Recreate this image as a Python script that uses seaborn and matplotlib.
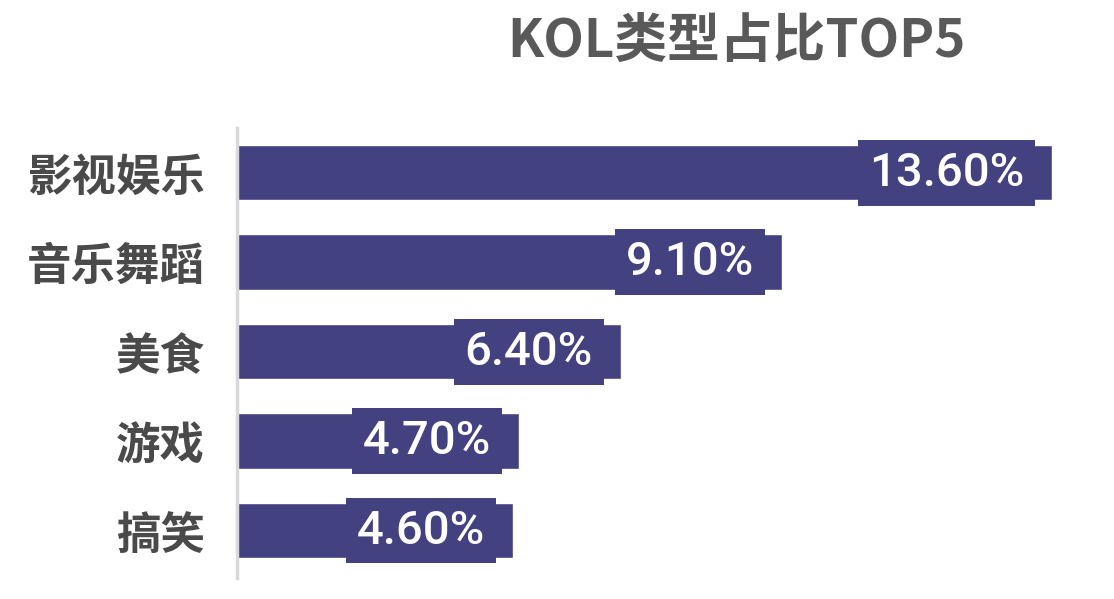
import pandas as pd
import matplotlib
matplotlib.use("Agg")
import matplotlib.pyplot as plt
import seaborn as sns

categories = ["影视娱乐", "音乐舞蹈", "美食", "游戏", "搞笑"]
values = [13.6, 9.1, 6.4, 4.7, 4.6]
labels = ["13.60%", "9.10%", "6.40%", "4.70%", "4.60%"]
title = "KOL类型占比TOP5"

sns.set_style("white")
plt.rcParams["font.family"] = ["Noto Sans CJK SC", "DejaVu Sans"]

bar_color = "#444180"

df = pd.DataFrame({"cat": categories, "val": values})

fig = plt.figure(figsize=(11.14, 5.99), dpi=100)
ax = fig.add_axes([237 / 1114, 21 / 599, (1100 - 237) / 1114, 450 / 599])

sns.barplot(data=df, y="cat", x="val", color=bar_color, saturation=1,
            width=0.62, orient="h", ax=ax)

ax.set_xlim(0, 14.4)
ax.set_ylim(4.53, -0.5)

# labels sitting inside the bar end, with a box of the same colour
for i, (v, lab) in enumerate(zip(values, labels)):
    ax.annotate(lab, xy=(v, i), xytext=(-20, 0), textcoords="offset points",
                ha="right", va="center", color="white", fontsize=34,
                family=["Roboto", "DejaVu Sans"], fontweight="medium",
                bbox=dict(boxstyle="square,pad=0.23", fc=bar_color, ec="none"))

ax.set_xlabel("")
ax.set_ylabel("")
ax.set_xticks([])
ax.tick_params(axis="y", length=0, pad=23, labelsize=32, labelcolor="#4a4a4a")
for t in ax.get_yticklabels():
    t.set_fontweight("bold")
for s in ["top", "right", "bottom"]:
    ax.spines[s].set_visible(False)
ax.spines["left"].set_color("#d9d9d9")
ax.spines["left"].set_linewidth(2.5)

fig.text(736 / 1114, 1 - 41 / 599, title, ha="center", va="center",
         fontsize=38, fontweight="bold", color="#595959")

fig.savefig("out.png", dpi=100)
